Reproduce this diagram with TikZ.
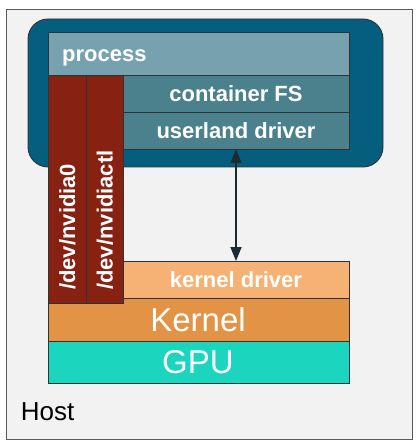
\documentclass[tikz,border=0pt]{standalone}
\usepackage{fontspec}
\setmainfont{Liberation Sans}
\usetikzlibrary{arrows.meta}
\definecolor{hostbg}{HTML}{F2F2F2}
\definecolor{hostedge}{HTML}{595959}
\definecolor{edge}{HTML}{2E3436}
\definecolor{ctr}{HTML}{055E7D}
\definecolor{proc}{HTML}{76A1AF}
\definecolor{layer}{HTML}{4A818D}
\definecolor{devred}{HTML}{872213}
\definecolor{kdrvc}{HTML}{F5B274}
\definecolor{kernc}{HTML}{E39345}
\definecolor{gpuc}{HTML}{1BD5BF}
\definecolor{arrowc}{HTML}{1C2B30}
\begin{document}
\begin{tikzpicture}[x=1pt,y=-1pt,
  box/.style={draw=edge, line width=0.9pt, inner sep=0pt, outer sep=0pt, anchor=north west},
  lbl/.style={text=white, font=\fontsize{22}{22}\selectfont\bfseries, inner sep=0pt},
  big/.style={text=white, font=\fontsize{33}{33}\selectfont, inner sep=0pt, anchor=base}]
\useasboundingbox (0,0) rectangle (419,446);
\node[box, draw=hostedge, fill=hostbg, minimum width=406pt, minimum height=430pt] (host) at (6,9) {};
\node[box, fill=ctr, rounded corners=20pt, minimum width=355pt, minimum height=148pt] (ctr) at (28,19) {};
\node[box, fill=proc, minimum width=301pt, minimum height=43pt] (proc) at (48,32) {};
\node[box, fill=layer, minimum width=226pt, minimum height=37pt] (cfs) at (123,75) {};
\node[box, fill=layer, minimum width=226pt, minimum height=37pt] (uld) at (123,112) {};
\node[box, fill=kdrvc, minimum width=226pt, minimum height=37pt] (kdrv) at (123,261) {};
\node[box, fill=kernc, minimum width=301pt, minimum height=43pt] (kern) at (48,298) {};
\node[box, fill=gpuc, minimum width=301pt, minimum height=42pt] (gpu) at (48,341) {};
\node[box, fill=devred, minimum width=38pt, minimum height=228pt] (red0) at (48,75) {};
\node[box, fill=devred, minimum width=37pt, minimum height=228pt] (redctl) at (86,75) {};
% labels
\node[lbl, anchor=base west] (tproc) at (62,61.7) {process};
\node[lbl, anchor=base] (tcfs) at (236,101.7) {container FS};
\node[lbl, anchor=base] (tuld) at (236,138.3) {userland driver};
\node[lbl, anchor=base] (tkdrv) at (236,287.3) {kernel driver};
\node[big] (tkern) at (198,331.7) {Kernel};
\node[big] (tgpu) at (198,373.3) {GPU};
\node[lbl, rotate=90, anchor=base west] (tred0) at (75,290) {/dev/nvidia0};
\node[lbl, rotate=90, anchor=base west] (tredctl) at (112.5,290) {/dev/nvidiactl};
\node[inner sep=0pt, anchor=base west, font=\fontsize{26}{26}\selectfont] (thost) at (20.7,420) {Host};
% arrow
\draw[arrowc, line width=1.6pt, {Triangle[length=14pt,width=11pt]}-{Triangle[length=14pt,width=11pt]}] (uld.south) -- (kdrv.north);
\end{tikzpicture}
\end{document}
